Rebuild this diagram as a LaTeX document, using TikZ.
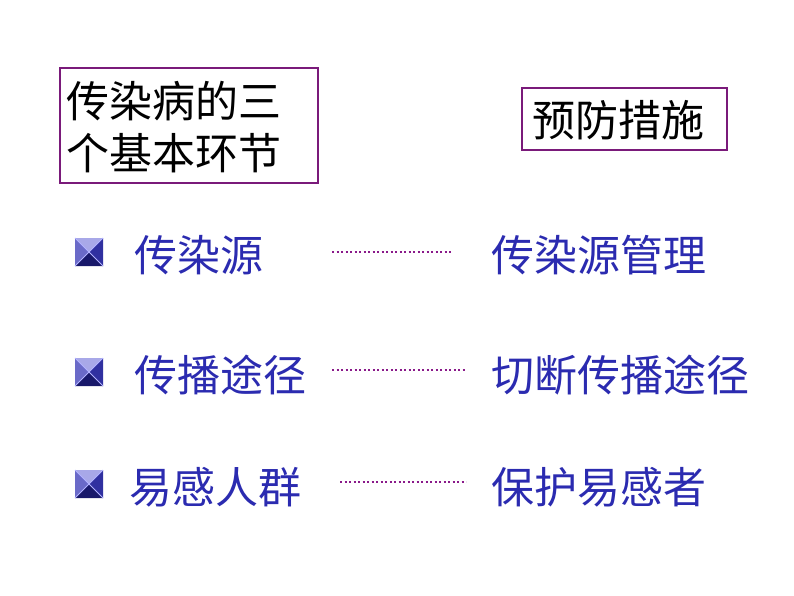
\documentclass[tikz,border=0pt]{standalone}
\usepackage{fontspec}
\newfontfamily\cjk{Noto Sans CJK SC}
\definecolor{bl}{HTML}{2B2BB0}
\definecolor{pu}{HTML}{7A1A7A}
\definecolor{dotc}{HTML}{8A1A8A}
\definecolor{bt}{HTML}{A8A8E8}
\definecolor{bll}{HTML}{6A6AC8}
\definecolor{br}{HTML}{3030A0}
\definecolor{bb}{HTML}{18186A}
\tikzset{
 txt/.style={font=\cjk\fontsize{43}{50}\selectfont, text=bl, anchor=west, inner sep=0pt},
 hd/.style={font=\cjk\fontsize{43}{52}\selectfont, text=black, anchor=west, inner sep=0pt, align=left},
 frame/.style={draw=pu, line width=2.5pt},
 dl/.style={dotc, line width=2pt, dash pattern=on 2pt off 2.5pt},
}
\newcommand{\bulletsq}[2]{%
 \begin{scope}[shift={(#1,#2)}]
 \fill[fill=bt] (-14,-14) -- (14,-14) -- (0,0) -- cycle;
 \fill[fill=bll] (-14,-14) -- (-14,14) -- (0,0) -- cycle;
 \fill[fill=br] (14,-14) -- (14,14) -- (0,0) -- cycle;
 \fill[fill=bb] (-14,14) -- (14,14) -- (0,0) -- cycle;
 \draw[white!70!blue, line width=0.8pt] (-14,-14) -- (14,14) (-14,14) -- (14,-14);
 \end{scope}}
\begin{document}
\begin{tikzpicture}[x=1pt,y=-1pt]
\useasboundingbox (0,0) rectangle (794,596);
\draw[frame] (60,68) rectangle (318,183);
\node[hd] (h1) at (66,101) {传染病的三};
\node[hd] (h2) at (66,153) {个基本环节};
\draw[frame] (522,88) rectangle (727,150);
\node[hd] (h3) at (532,120) {预防措施};
\bulletsq{89}{252}
\bulletsq{89}{372}
\bulletsq{89}{484}
\node[txt] (a1) at (134,255) {传染源};
\node[txt] (a2) at (134,375) {传播途径};
\node[txt] (a3) at (129,487) {易感人群};
\node[txt] (b1) at (491,255) {传染源管理};
\node[txt] (b2) at (491,375) {切断传播途径};
\node[txt] (b3) at (491,487) {保护易感者};
\coordinate (p1) at (332,252); \coordinate (q1) at (452,252);
\coordinate (p2) at (332,370); \coordinate (q2) at (466,370);
\coordinate (p3) at (340,482); \coordinate (q3) at (466,482);
\draw[dl] (p1) -- (q1);
\draw[dl] (p2) -- (q2);
\draw[dl] (p3) -- (q3);
\end{tikzpicture}
\end{document}
